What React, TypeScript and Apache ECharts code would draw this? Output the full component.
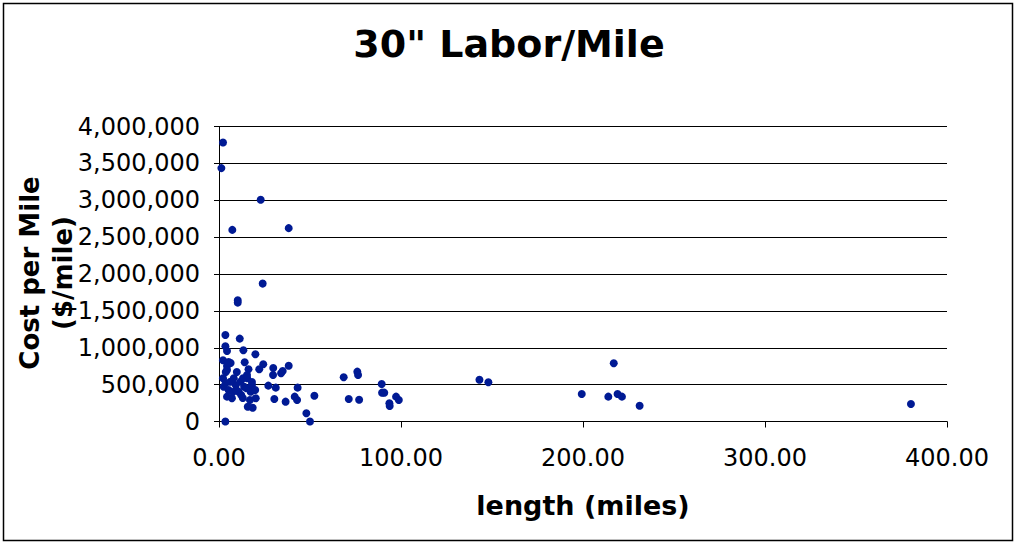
import React, { useEffect, useRef } from "react";
import * as echarts from "echarts";

const TITLE = '30" Labor/Mile';
const X_NAME = "length (miles)";
const Y_NAME = "Cost per Mile\n($/mile)";

const lengths: number[] = [
  2.2, 1.3, 22.9, 7.3, 38.3, 24.0, 10.3, 10.3, 3.5, 11.4, 3.5, 4.4, 13.4, 20.0, 2.2, 6.4, 14.1, 4.4, 16.2, 24.3,
  22.1, 29.8, 38.3, 29.7, 34.1, 35.0, 2.2, 27.1, 31.2, 43.2, 52.4, 41.6, 42.9, 30.4, 36.6, 48.0, 50.0, 3.5, 15.8, 18.5,
  68.5, 76.0, 76.4, 89.4, 89.6, 90.8, 71.3, 77.0, 93.6, 93.8, 97.3, 98.8, 143.1, 148.0, 216.9, 199.3, 213.9, 219.0, 221.4, 231.1,
  380.2, 4.4, 2.6, 15.5, 4.4, 7.1, 10.8, 20.2, 9.2, 13.8, 17.4, 5.3, 8.1, 11.8, 6.3, 13.2, 15.1, 12.2, 3.7, 9.8,
  7.6, 9.5, 13.1, 17.0, 3.7, 5.3, 18.1, 15.4, 18.1, 19.9,
];

const costs: number[] = [
  3783000, 3436000, 3006000, 2598000, 2622000, 1870000, 1645000, 1612000, 1174000, 1124000, 1020000, 957000, 966000, 912000, 830000, 794000, 803000, 753000, 708000, 776000,
  708000, 726000, 757000, 631000, 654000, 685000, 586000, 486000, 459000, 459000, 350000, 337000, 292000, 305000, 269000, 111000, 0, 0, 201000, 187000,
  600000, 676000, 631000, 509000, 391000, 391000, 305000, 296000, 247000, 210000, 337000, 292000, 567000, 532000, 790000, 373000, 337000, 373000, 337000, 214000,
  237000, 699000, 472000, 586000, 337000, 315000, 404000, 315000, 495000, 472000, 404000, 427000, 586000, 540000, 540000, 586000, 450000, 360000, 522000, 672000,
  400000, 427000, 319000, 292000, 672000, 807000, 536000, 631000, 495000, 427000,
];

const X_MIN = 0;
const X_MAX = 400;
const X_STEP = 100;
const Y_MIN = 0;
const Y_MAX = 4000000;
const Y_STEP = 500000;

const FONT = "'DejaVu Sans', Verdana, sans-serif";

export default function App() {
  const ref = useRef<HTMLDivElement>(null);
  useEffect(() => {
    if (!ref.current) return;
    const chart = echarts.init(ref.current, null, { renderer: "svg" });
    const data = lengths.map((x, i) => [x, costs[i]]);
    chart.setOption({
      animation: false,
      backgroundColor: "#ffffff",
      textStyle: { fontFamily: FONT, color: "#000" },
      title: {
        text: TITLE,
        left: "center",
        top: 20,
        textStyle: { fontFamily: FONT, fontSize: 38, fontWeight: "bold", color: "#000" },
      },
      graphic: [
        {
          type: "rect",
          shape: { x: 3.5, y: 3.5, width: 1009, height: 537 },
          style: { fill: "none", stroke: "#000", lineWidth: 1.5 },
          silent: true,
        },
        {
          type: "text",
          x: 46,
          y: 273,
          rotation: Math.PI / 2,
          silent: true,
          style: {
            text: Y_NAME,
            fontFamily: FONT,
            fontSize: 26,
            fontWeight: "bold",
            fill: "#000",
            align: "center",
            verticalAlign: "middle",
            lineHeight: 33,
          },
        },
      ],
      grid: {
        left: 219,
        right: 71,
        top: 126.5,
        bottom: 124.5,
        containLabel: false,
        outerBoundsMode: "none",
      },
      xAxis: {
        type: "value",
        min: X_MIN,
        max: X_MAX,
        interval: X_STEP,
        name: X_NAME,
        nameLocation: "middle",
        nameGap: 70,
        nameTextStyle: { fontFamily: FONT, fontSize: 27, fontWeight: "bold", color: "#000" },
        axisLine: { show: true, onZero: false, lineStyle: { color: "#000", width: 1 } },
        axisTick: { show: true, inside: false, length: 6, lineStyle: { color: "#000" } },
        axisLabel: {
          fontFamily: FONT,
          fontSize: 24,
          color: "#000",
          margin: 24,
          formatter: (v: number) => v.toFixed(2),
        },
        splitLine: { show: false },
      },
      yAxis: {
        type: "value",
        min: Y_MIN,
        max: Y_MAX,
        interval: Y_STEP,
        axisLine: { show: true, onZero: false, lineStyle: { color: "#000", width: 1 } },
        axisTick: { show: true, inside: false, length: 5, lineStyle: { color: "#000" } },
        axisLabel: {
          fontFamily: FONT,
          fontSize: 24,
          color: "#000",
          margin: 19,
          formatter: (v: number) => v.toLocaleString("en-US"),
        },
        splitLine: { show: true, lineStyle: { color: "#000", width: 1 } },
      },
      series: [
        {
          type: "scatter",
          data,
          symbol: "circle",
          symbolSize: 8,
          itemStyle: { color: "#001a94", opacity: 1 },
        },
      ],
    });
    return () => chart.dispose();
  }, []);
  return (
    <div
      ref={ref}
      style={{ position: "fixed", left: 0, top: 0, width: 1018, height: 546, background: "#fff" }}
    />
  );
}
